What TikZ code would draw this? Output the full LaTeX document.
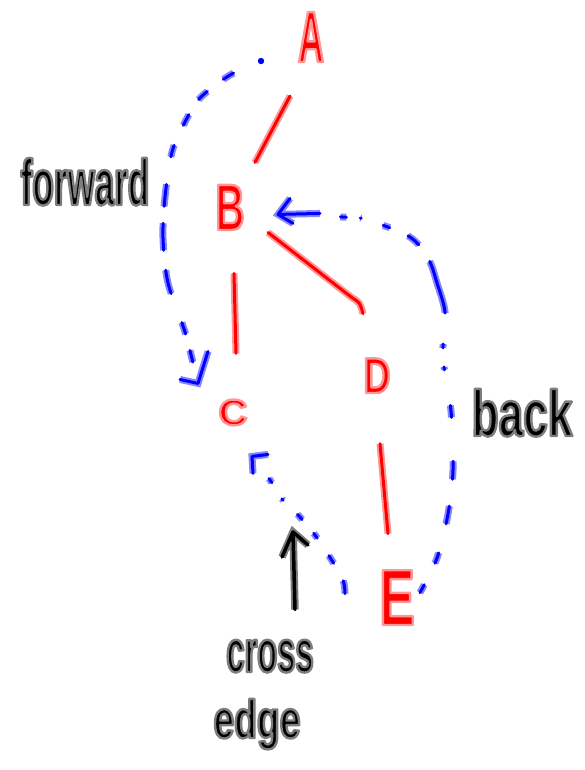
\documentclass[tikz,border=0pt]{standalone}
\usepackage{fontspec}
\setmainfont{Liberation Sans}
\usetikzlibrary{calc}

\definecolor{inkred}{RGB}{255,0,0}
\definecolor{glowred}{RGB}{255,150,150}
\definecolor{inkblue}{RGB}{0,0,255}
\definecolor{glowblue}{RGB}{135,135,255}
\definecolor{inkblack}{RGB}{0,0,0}
\definecolor{glowgray}{RGB}{125,125,125}

% marker-style text: halo stroke colour (PDF rgb), horizontal stretch, size, text
\newcommand{\hand}[4]{%
  \fontspec{Liberation Sans}[FakeStretch=#2]\bfseries\fontsize{#3}{#3}\selectfont
  \special{pdf:literal direct 2 Tr 2.4 w 1 j #1 RG}#4%
  \special{pdf:literal direct 0 Tr 0.4 w 0 j}}
\newcommand{\redhalo}{1 0.59 0.59}
\newcommand{\grayhalo}{0.49 0.49 0.49}

\tikzset{
  letter/.style={anchor=base, inner sep=0pt, text=inkred},
  word/.style={anchor=base, inner sep=0pt, text=inkblack},
  treeedge/.style={draw=inkred, line width=3pt, line cap=round, line join=round,
    preaction={draw=glowred, line width=7pt}},
  bluestroke/.style={draw=inkblue, line width=3pt, line cap=round, line join=round,
    preaction={draw=glowblue, line width=7pt}},
  bluedash/.style={draw=inkblue, line width=3pt, line cap=round, dash pattern=#1,
    preaction={draw=glowblue, line width=7pt, dash pattern=#1}},
  pointer/.style={draw=inkblack, line width=3.5pt, line cap=round, line join=round,
    preaction={draw=glowgray, line width=7.5pt}},
}

\begin{document}
\begin{tikzpicture}[x=1pt, y=-1pt]
\useasboundingbox (0,0) rectangle (585,770);

% vertices
\node[letter] (A) at (311,62)  {\hand{\redhalo}{0.49}{72.6pt}{A}};
\node[letter] (B) at (230,230) {\hand{\redhalo}{0.61}{65.6pt}{B}};
\node[letter] (C) at (233,425) {\hand{\redhalo}{1.1}{36.5pt}{C}};
\node[letter] (D) at (377,393) {\hand{\redhalo}{0.74}{50.3pt}{D}};
\node[letter] (E) at (397,625) {\hand{\redhalo}{0.67}{79.6pt}{E}};

% labels
\node[word] (fwdword)   at (85,205)  {\hand{\grayhalo}{0.54}{65pt}{forward}};
\node[word] (backword)  at (522,436) {\hand{\grayhalo}{0.68}{65pt}{back}};
\node[word] (crossword) at (270,672) {\hand{\grayhalo}{0.545}{60pt}{cross}};
\node[word] (edgeword)  at (257,738) {\hand{\grayhalo}{0.69}{54pt}{edge}};

% tree edges
\draw[treeedge] ($(A)+(-21,59)$) -- ($(B)+(25,-45)$);
\draw[treeedge] ($(B)+(4,66)$) -- ($(C)+(3,-59)$);
\draw[treeedge] ($(B)+(38,25)$) -- ($(D)+(-25,-78)$)
  .. controls ($(D)+(-17,-73)$) .. ($(D)+(-14,-62)$);
\draw[treeedge] ($(D)+(3,68)$) -- ($(E)+(-9,-64)$);

% forward edge
\coordinate (fwdtail) at ($(A)+(-50,24)$);
\coordinate (fwdhead) at ($(C)+(-35,-29)$);
\fill[inkblue] (fwdtail) circle (3.2);
\draw[bluedash={on 12pt off 20pt on 12pt off 18pt on 12pt off 22pt on 12pt off 28pt on 22pt off 17pt on 27pt off 20pt on 24pt off 31pt on 12pt off 17pt on 12pt off 50pt}, dash phase=338pt]
  plot[smooth] coordinates {(fwdtail) (230,75) (200,98) (185,122) (172,152) (165,197) (163,238) (168,283) (185,332) (fwdhead)};
\draw[bluestroke] ($(fwdhead)+(10,-32)$) -- (fwdhead) -- ($(fwdhead)+(-18,-4)$);

% back edge
\coordinate (backtail) at ($(E)+(23,-5)$);
\coordinate (backhead) at ($(B)+(48,7)$);
\coordinate (backshaft) at ($(backhead)+(42,-1)$);
\draw[bluedash={on 9pt off 24pt on 11pt off 30pt on 18pt off 27pt on 18pt off 44pt on 12pt off 36pt on 3pt off 19pt on 4pt off 31pt on 54pt off 20pt on 14pt off 20pt on 7pt off 23pt on 1pt off 14pt on 6pt off 30pt}]
  plot[smooth] coordinates {(backtail) (437,558) (448,514) (453,470) (451,411) (444,367) (443,346) (445,312) (437,283) (430,262) (418,244) (405,234) (385,226) (360,218) (342,217) (backshaft)};
\draw[bluestroke] (backshaft) -- (backhead)
  ($(backhead)+(12,-16)$) -- (backhead) -- ($(backhead)+(15,9)$);

% cross edge
\coordinate (crosstail) at ($(E)+(-52,-4)$);
\coordinate (crosshead) at ($(C)+(19,44)$);
\draw[bluedash={on 13pt off 20pt on 9pt off 21pt on 6pt off 18pt on 7pt off 20pt on 2pt off 19pt on 5pt off 40pt}]
  plot[smooth] coordinates {(crosstail) (343,580) (331,559) (315,535) (299,516) (282,499) (270,480) (crosshead)};
\draw[bluestroke] ($(crosshead)+(1,17)$) -- (crosshead) -- ($(crosshead)+(16,-2)$);

% pointer from the label to the cross edge
\coordinate (crosspoint) at (293,532);
\draw[pointer] ($(crossword.north)+(25,-30)$) -- (crosspoint)
  ($(crosspoint)+(-11,25)$) -- (crosspoint) -- ($(crosspoint)+(15,13)$);
\end{tikzpicture}
\end{document}
